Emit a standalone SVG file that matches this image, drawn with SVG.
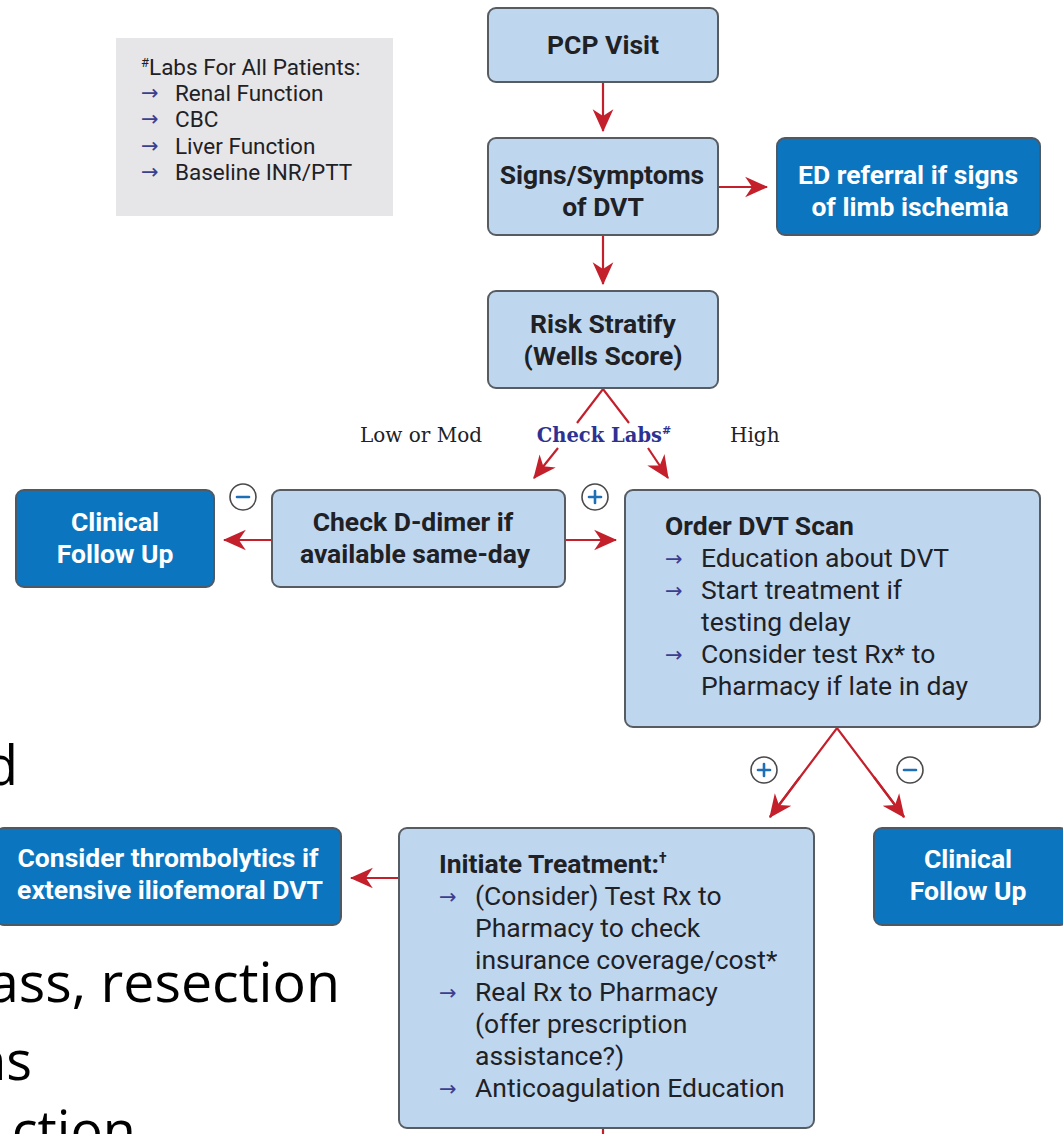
<svg xmlns="http://www.w3.org/2000/svg" width="1063" height="1134" viewBox="0 0 1063 1134">
<defs>
<style>
.lb{fill:#bed7ef;stroke:#575c63;stroke-width:2}
.db{fill:#0b76bf;stroke:#4d5a66;stroke-width:2}
.t{font-family:Roboto,"Liberation Sans",sans-serif;font-weight:700;font-size:26.5px;fill:#1f2125;text-anchor:middle}
.tw{font-family:Roboto,"Liberation Sans",sans-serif;font-weight:700;font-size:26.5px;fill:#ffffff;text-anchor:middle}
.b{font-family:Roboto,"Liberation Sans",sans-serif;font-size:26.5px;fill:#1f2125}
.bh{font-family:Roboto,"Liberation Sans",sans-serif;font-weight:700;font-size:26.5px;fill:#1f2125}
.ar{font-family:"DejaVu Sans",sans-serif;font-size:21px;fill:#3a3f8f}
.lab{font-family:Roboto,"Liberation Sans",sans-serif;font-size:22.5px;fill:#1f2125}
.ser{font-family:"DejaVu Serif","Liberation Serif",serif;font-size:20px;fill:#222}
.ck{font-family:"DejaVu Serif","Liberation Serif",serif;font-size:19.5px;font-weight:700;fill:#2e3192;text-anchor:middle}
.con{stroke:#c3202c;stroke-width:2.2;fill:none}
.cir{fill:#fff;stroke:#4a4a4a;stroke-width:1.6}
.sg{stroke:#1f6fb6;stroke-width:2.6;stroke-linecap:round}
.sl{font-family:"Open Sans","Noto Sans",sans-serif;font-size:54px;fill:#000}
</style>
<marker id="ah" viewBox="0 0 20 20" refX="19" refY="10" markerWidth="23" markerHeight="23" orient="auto" markerUnits="userSpaceOnUse">
<path d="M0,1 L20,10 L0,19 L6,10 Z" fill="#c3202c"/>
</marker>
</defs>
<rect width="1063" height="1134" fill="#ffffff"/>

<g id="slide-text">
<text class="sl" x="18" y="785" text-anchor="end">d</text>
<text class="sl" x="-12" y="1002" textLength="352" lengthAdjust="spacingAndGlyphs">ass, resection</text>
<text class="sl" x="32" y="1080" text-anchor="end">ns</text>
<text class="sl" x="136" y="1150" text-anchor="end">ction</text>
</g>

<g id="connectors">
<line class="con" x1="603" y1="82" x2="603" y2="131" marker-end="url(#ah)"/>
<line class="con" x1="718" y1="187" x2="767" y2="187" marker-end="url(#ah)"/>
<line class="con" x1="603" y1="235" x2="603" y2="284" marker-end="url(#ah)"/>
<polyline class="con" points="577,423 603,389 629,423"/>
<line class="con" x1="558" y1="448" x2="534" y2="478" marker-end="url(#ah)"/>
<line class="con" x1="648" y1="448" x2="668" y2="478" marker-end="url(#ah)"/>
<line class="con" x1="272" y1="540" x2="224" y2="540" marker-end="url(#ah)"/>
<line class="con" x1="565" y1="540" x2="616" y2="540" marker-end="url(#ah)"/>
<polyline class="con" points="770,817 837,728 904,817"/>
<line class="con" x1="800" y1="777" x2="770" y2="817" marker-end="url(#ah)"/>
<line class="con" x1="874" y1="777" x2="904" y2="817" marker-end="url(#ah)"/>
<line class="con" x1="399" y1="878" x2="351" y2="878" marker-end="url(#ah)"/>
<line class="con" x1="603" y1="1128" x2="603" y2="1134"/>
</g>

<g id="labs">
<rect x="116" y="38" width="277" height="178" fill="#e6e6e8"/>
<text class="lab" x="141" y="75"><tspan font-size="13" dy="-8">#</tspan><tspan dy="8">Labs For All Patients:</tspan></text>
<text class="ar" x="141" y="100" font-size="19">→</text><text class="lab" x="175" y="101">Renal Function</text>
<text class="ar" x="141" y="126" font-size="19">→</text><text class="lab" x="175" y="127">CBC</text>
<text class="ar" x="141" y="153" font-size="19">→</text><text class="lab" x="175" y="154">Liver Function</text>
<text class="ar" x="141" y="179" font-size="19">→</text><text class="lab" x="175" y="180">Baseline INR/PTT</text>
</g>

<g id="pcp">
<rect class="lb" x="488" y="8" width="230" height="74" rx="8"/>
<text class="t" x="603" y="54">PCP Visit</text>
</g>

<g id="signs">
<rect class="lb" x="488" y="138" width="230" height="97" rx="8"/>
<text class="t" x="602" y="184">Signs/Symptoms</text>
<text class="t" x="603" y="216">of DVT</text>
</g>

<g id="ed">
<rect class="db" x="777" y="138" width="263" height="97" rx="8"/>
<text class="tw" x="908" y="184">ED referral if signs</text>
<text class="tw" x="910" y="216">of limb ischemia</text>
</g>

<g id="risk">
<rect class="lb" x="488" y="291" width="230" height="97" rx="8"/>
<text class="t" x="603" y="333">Risk Stratify</text>
<text class="t" x="603" y="365">(Wells Score)</text>
</g>

<g id="labels">
<text class="ser" x="360" y="442">Low or Mod</text>
<text class="ck" x="604" y="442">Check Labs<tspan font-size="11" dy="-8">#</tspan></text>
<text class="ser" x="730" y="442">High</text>
</g>

<g id="ddimer">
<rect class="lb" x="272" y="490" width="293" height="97" rx="8"/>
<text class="t" x="413" y="531">Check D-dimer if</text>
<text class="t" x="415" y="563">available same-day</text>
</g>

<g id="minus1"><circle class="cir" cx="243" cy="497" r="13"/><line class="sg" x1="237" y1="497" x2="249" y2="497"/></g>
<g id="plus1"><circle class="cir" cx="595" cy="497" r="13"/><line class="sg" x1="589" y1="497" x2="601" y2="497"/><line class="sg" x1="595" y1="491" x2="595" y2="503"/></g>

<g id="followup1">
<rect class="db" x="16" y="490" width="198" height="97" rx="8"/>
<text class="tw" x="115" y="531">Clinical</text>
<text class="tw" x="115" y="563">Follow Up</text>
</g>

<g id="scan">
<rect class="lb" x="625" y="490" width="415" height="237" rx="8"/>
<text class="bh" x="665" y="535">Order DVT Scan</text>
<text class="ar" x="665" y="566">→</text><text class="b" x="701" y="567">Education about DVT</text>
<text class="ar" x="665" y="598">→</text><text class="b" x="701" y="599">Start treatment if</text>
<text class="b" x="701" y="631">testing delay</text>
<text class="ar" x="665" y="662">→</text><text class="b" x="701" y="663">Consider test Rx* to</text>
<text class="b" x="701" y="695">Pharmacy if late in day</text>
</g>

<g id="plus2"><circle class="cir" cx="764" cy="770" r="13"/><line class="sg" x1="758" y1="770" x2="770" y2="770"/><line class="sg" x1="764" y1="764" x2="764" y2="776"/></g>
<g id="minus2"><circle class="cir" cx="910" cy="770" r="13"/><line class="sg" x1="904" y1="770" x2="916" y2="770"/></g>

<g id="followup2">
<rect class="db" x="874" y="828" width="194" height="97" rx="8"/>
<text class="tw" x="968" y="868">Clinical</text>
<text class="tw" x="968" y="900">Follow Up</text>
</g>

<g id="treatment">
<rect class="lb" x="399" y="828" width="415" height="300" rx="8"/>
<text class="bh" x="439" y="873">Initiate Treatment:<tspan font-size="14" dy="-10">†</tspan></text>
<text class="ar" x="439" y="904">→</text><text class="b" x="475" y="905">(Consider) Test Rx to</text>
<text class="b" x="475" y="937">Pharmacy to check</text>
<text class="b" x="475" y="969">insurance coverage/cost*</text>
<text class="ar" x="439" y="1000">→</text><text class="b" x="475" y="1001">Real Rx to Pharmacy</text>
<text class="b" x="475" y="1033">(offer prescription</text>
<text class="b" x="475" y="1065">assistance?)</text>
<text class="ar" x="439" y="1096">→</text><text class="b" x="475" y="1097">Anticoagulation Education</text>
</g>

<g id="thrombo">
<rect class="db" x="-4" y="828" width="345" height="97" rx="8"/>
<text class="tw" x="168" y="867" font-size="24">Consider thrombolytics if</text>
<text class="tw" x="170" y="899" font-size="24">extensive iliofemoral DVT</text>
</g>
</svg>
